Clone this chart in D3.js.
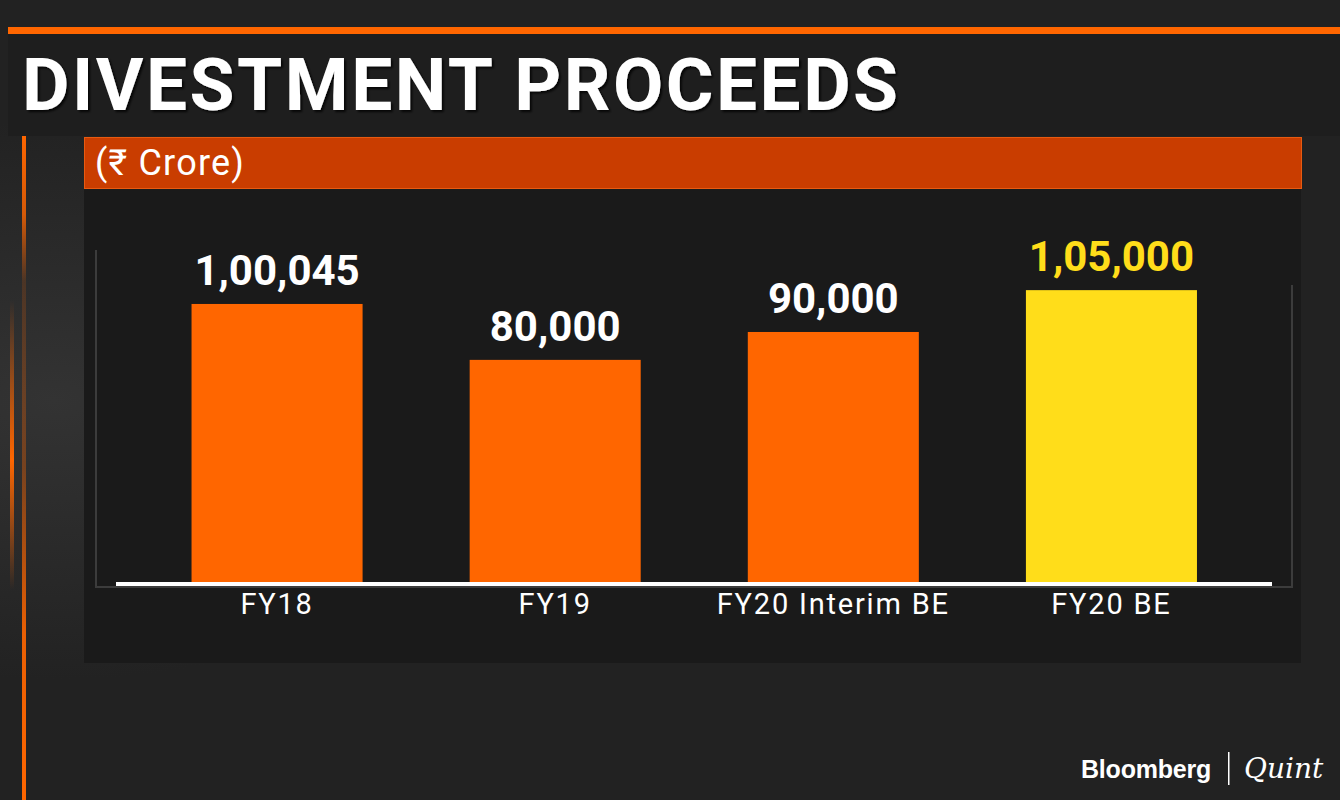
<!DOCTYPE html>
<html>
<head>
<meta charset="utf-8">
<script src="https://cdn.jsdelivr.net/npm/d3@7"></script>
<style>
  html, body { margin: 0; padding: 0; background: #222222; }
  svg { display: block; }
</style>
</head>
<body>
<svg id="chart" width="1340" height="800"></svg>
<script>
const categories = ["FY18", "FY19", "FY20 Interim BE", "FY20 BE"];
const values = [100045, 80000, 90000, 105000];
const valueLabels = ["1,00,045", "80,000", "90,000", "1,05,000"];
const highlight = [false, false, false, true];
const titleText = "DIVESTMENT PROCEEDS";
const unitText = "(\u20B9 Crore)";

const svg = d3.select("#chart");
const defs = svg.append("defs");

// background
const bgGrad = defs.append("radialGradient").attr("id", "bgGlow")
  .attr("cx", "0.04").attr("cy", "0.5").attr("r", "0.35");
bgGrad.append("stop").attr("offset", "0").attr("stop-color", "#333333");
bgGrad.append("stop").attr("offset", "1").attr("stop-color", "#222222");
svg.append("rect").attr("width", 1340).attr("height", 800).attr("fill", "#222222");
svg.append("rect").attr("width", 1340).attr("height", 800).attr("fill", "url(#bgGlow)");

// decorative left orange lines
const vGrad = defs.append("linearGradient").attr("id", "vGlow")
  .attr("x1", 0).attr("y1", 0).attr("x2", 0).attr("y2", 1);
vGrad.append("stop").attr("offset", "0").attr("stop-color", "#ff6600").attr("stop-opacity", 0);
vGrad.append("stop").attr("offset", "0.55").attr("stop-color", "#ff6600").attr("stop-opacity", 1);
vGrad.append("stop").attr("offset", "1").attr("stop-color", "#ff6600").attr("stop-opacity", 0);
svg.append("rect").attr("x", 10).attr("y", 300).attr("width", 4).attr("height", 290).attr("fill", "url(#vGlow)");

const v2 = defs.append("linearGradient").attr("id", "vLine")
  .attr("x1", 0).attr("y1", 0).attr("x2", 0).attr("y2", 1);
v2.append("stop").attr("offset", "0").attr("stop-color", "#ff6600").attr("stop-opacity", 1);
v2.append("stop").attr("offset", "0.12").attr("stop-color", "#ff6600").attr("stop-opacity", 0.8);
v2.append("stop").attr("offset", "0.22").attr("stop-color", "#ff6600").attr("stop-opacity", 0.15);
v2.append("stop").attr("offset", "0.5").attr("stop-color", "#ff6600").attr("stop-opacity", 0.35);
v2.append("stop").attr("offset", "0.75").attr("stop-color", "#ff6600").attr("stop-opacity", 0.9);
v2.append("stop").attr("offset", "1").attr("stop-color", "#ff6600").attr("stop-opacity", 1);
svg.append("rect").attr("x", 22).attr("y", 135).attr("width", 4).attr("height", 665).attr("fill", "url(#vLine)");

// top orange line and title box
svg.append("rect").attr("x", 8).attr("y", 27).attr("width", 1332).attr("height", 7).attr("fill", "#ff6600");
svg.append("rect").attr("x", 8).attr("y", 34).attr("width", 1332).attr("height", 102).attr("fill", "#1e1e1e");

const shadow = defs.append("filter").attr("id", "tshadow").attr("x", "-5%").attr("y", "-20%").attr("width", "110%").attr("height", "140%");
shadow.append("feDropShadow").attr("dx", 2).attr("dy", 2).attr("stdDeviation", 1).attr("flood-color", "#000").attr("flood-opacity", 0.8);

svg.append("text").attr("x", 22).attr("y", 110)
  .attr("font-family", "Roboto, 'Open Sans', sans-serif").attr("font-weight", 700)
  .attr("font-size", 73).attr("letter-spacing", 2.5).attr("fill", "#ffffff").attr("filter", "url(#tshadow)")
  .text(titleText);

// subtitle bar
svg.append("rect").attr("x", 84.5).attr("y", 137.5).attr("width", 1217).attr("height", 51)
  .attr("fill", "#c93d00").attr("stroke", "#e85a10").attr("stroke-width", 1);
svg.append("text").attr("x", 95).attr("y", 175)
  .attr("font-family", "Roboto, sans-serif").attr("font-weight", 400)
  .attr("font-size", 36).attr("letter-spacing", 1.2).attr("fill", "#ffffff").text(unitText);

// plot panel
svg.append("rect").attr("x", 84).attr("y", 189).attr("width", 1217).attr("height", 474).attr("fill", "#1a1a1a");

// gray frame
const frame = svg.append("g").attr("stroke", "#3c3c3c").attr("stroke-width", 2).attr("fill", "none");
frame.append("path").attr("d", "M96,250 V587 H1292 V285");

// scales
const y = d3.scaleLinear().domain([0, 120000]).range([583, 248.3]);
const x = d3.scaleBand().domain(categories).range([138, 1250.5]).paddingInner(0.385).paddingOuter(0.1925);

// bars
svg.append("g").selectAll("rect").data(values).join("rect")
  .attr("x", (d, i) => x(categories[i]))
  .attr("y", d => y(d))
  .attr("width", x.bandwidth())
  .attr("height", d => y(0) - y(d))
  .attr("fill", (d, i) => highlight[i] ? "#ffdd1a" : "#ff6600");

// value labels
svg.append("g").selectAll("text").data(values).join("text")
  .attr("x", (d, i) => x(categories[i]) + x.bandwidth() / 2)
  .attr("y", d => y(d) - 19)
  .attr("text-anchor", "middle")
  .attr("font-family", "Roboto, sans-serif").attr("font-weight", 700)
  .attr("font-size", 42)
  .attr("fill", (d, i) => highlight[i] ? "#ffdd1a" : "#ffffff")
  .text((d, i) => valueLabels[i]);

// x axis
const xAxis = d3.axisBottom(x).tickSize(0).tickPadding(10);
const gx = svg.append("g").attr("transform", "translate(0,583)").call(xAxis);
gx.select(".domain").remove();
gx.selectAll("text")
  .attr("font-family", "Roboto, sans-serif").attr("font-size", 29)
  .attr("letter-spacing", 1.8)
  .attr("fill", "#ffffff").attr("dy", "0.71em");
svg.append("rect").attr("x", 116).attr("y", 582).attr("width", 1156).attr("height", 4).attr("fill", "#ffffff");

// logo
svg.append("text").attr("x", 1081).attr("y", 778)
  .attr("font-family", "'Liberation Sans', Arial, sans-serif").attr("font-weight", 700)
  .attr("font-size", 25).attr("letter-spacing", -0.2).attr("fill", "#ffffff").text("Bloomberg");
svg.append("rect").attr("x", 1228).attr("y", 752).attr("width", 1.5).attr("height", 33).attr("fill", "#ffffff");
svg.append("text").attr("x", 1244).attr("y", 778)
  .attr("font-family", "'DejaVu Serif', 'Liberation Serif', serif").attr("font-style", "italic")
  .attr("font-size", 28).attr("fill", "#ffffff").text("Quint");
</script>
</body>
</html>
